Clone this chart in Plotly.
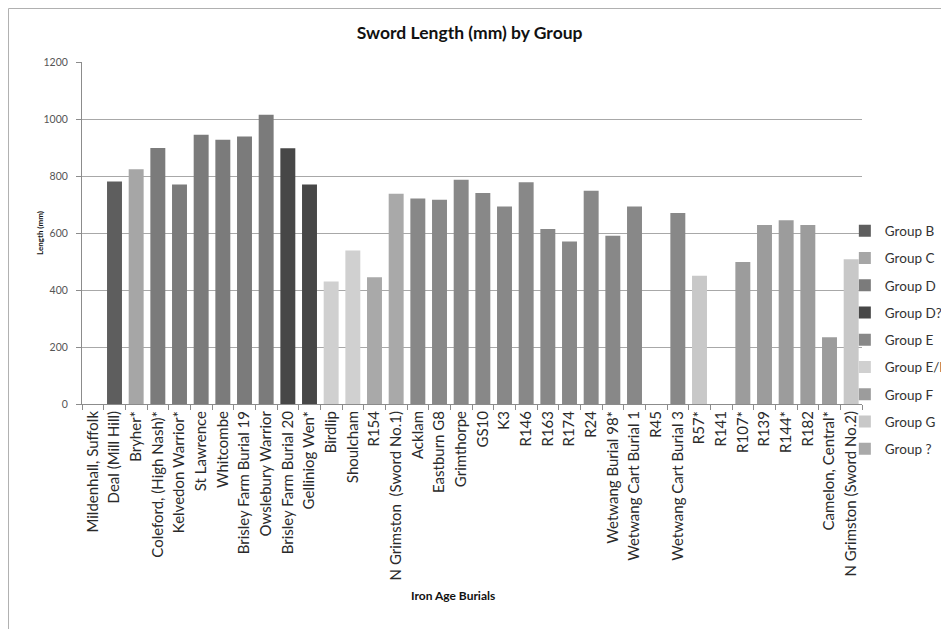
import plotly.graph_objects as go

burials = [
    "Mildenhall, Suffolk", "Deal (Mill Hill)", "Bryher*", "Coleford, (High Nash)*",
    "Kelvedon Warrior*", "St Lawrence", "Whitcombe", "Brisley Farm Burial 19",
    "Owslebury Warrior", "Brisley Farm Burial 20", "Gelliniog Wen*", "Birdlip",
    "Shoulcham", "R154", "N Grimston  (Sword No.1)", "Acklam", "Eastburn G8",
    "Grimthorpe", "GS10", "K3", "R146", "R163", "R174", "R24",
    "Wetwang Burial 98*", "Wetwang Cart Burial 1", "R45", "Wetwang Cart Burial 3",
    "R57*", "R141", "R107*", "R139", "R144*", "R182", "Camelon, Central*",
    "N Grimston (Sword No.2)",
]
lengths = [
    None, 781, 824, 898,
    770, 945, 927, 939,
    1015, 897, 770, 430,
    539, 445, 738, 721, 717,
    787, 740, 693, 778, 614, 570, 748,
    590, 693, None, 670,
    450, None, 498, 628, 645, 628, 234,
    508,
]
groups = [
    None, "Group B", "Group C", "Group D",
    "Group D", "Group D", "Group D", "Group D",
    "Group D", "Group D?", "Group D?", "Group E/F",
    "Group E/F", "Group ?", "Group ?", "Group E", "Group E",
    "Group E", "Group E", "Group E", "Group E", "Group E", "Group E", "Group E",
    "Group E", "Group E", None, "Group E",
    "Group G", None, "Group F", "Group F", "Group F", "Group F", "Group F",
    "Group G",
]
legend_order = ["Group B", "Group C", "Group D", "Group D?", "Group E",
                "Group E/F", "Group F", "Group G", "Group ?"]
group_colors = ["#5e5e5e", "#a6a6a6", "#7b7b7b", "#474747", "#888888",
                "#d0d0d0", "#9c9c9c", "#c8c8c8", "#a9a9a9"]

FONT = "Lato, 'Open Sans', sans-serif"

fig = go.Figure()
for g, col in zip(legend_order, group_colors):
    ys = [v if gr == g else None for v, gr in zip(lengths, groups)]
    fig.add_trace(go.Bar(
        x=burials, y=ys, name=g, marker=dict(color=col, line=dict(width=0)),
        legendgroup=g,
    ))

fig.update_layout(
    width=949, height=629,
    barmode="relative", bargap=0.31,
    plot_bgcolor="white", paper_bgcolor="white",
    margin=dict(l=74, r=95, t=54, b=233, autoexpand=False),
    font=dict(family=FONT, color="#333333"),
    title=dict(text="<b>Sword Length (mm) by Group</b>", x=0.497, xanchor="center",
               xref="paper", y=0.960, yanchor="middle",
               font=dict(size=17.5, color="#111111")),
    legend=dict(x=0.978, xanchor="left", y=0.187, yanchor="middle",
                font=dict(size=13.5, color="#333333"), tracegroupgap=6.7,
                traceorder="grouped", itemwidth=30, bgcolor="rgba(0,0,0,0)"),
    showlegend=True,
)
fig.update_xaxes(
    type="category", categoryorder="array", categoryarray=burials,
    range=[-0.5, len(burials) - 0.5],
    tickangle=-90, tickfont=dict(size=15, color="#2a2a2a", family=FONT),
    showline=True, linecolor="#8c8c8c", linewidth=1,
    ticks="outside", tickson="boundaries", ticklen=5, tickcolor="#8c8c8c",
    showgrid=False, automargin=False,
)
fig.update_yaxes(
    range=[0, 1200], dtick=200, tick0=0,
    tickfont=dict(size=10.5, color="#555555", family=FONT),
    showline=True, linecolor="#8c8c8c", linewidth=1,
    ticks="outside", ticklen=5, tickcolor="#8c8c8c", ticklabelstandoff=6,
    showgrid=True, gridcolor="#a8a8a8", gridwidth=1,
    zeroline=False, automargin=False,
)
fig.add_annotation(text="<b>Length (mm)</b>", xref="paper", yref="paper",
                   x=-0.0628, y=0.5, textangle=-90, showarrow=False,
                   font=dict(size=8, color="#111111"))
fig.add_annotation(text="<b>Iron Age Burials</b>", xref="paper", yref="paper",
                   x=0.476, y=-0.588, showarrow=False,
                   font=dict(size=12, color="#111111"))
# chart-area border (left and top edges visible)
fig.add_shape(type="rect", xref="paper", yref="paper",
              x0=-0.0942, x1=1.2, y0=-0.75, y1=1.1564,
              line=dict(color="#b0b0b0", width=1), fillcolor="rgba(0,0,0,0)",
              layer="below")

fig.write_html("out.html")
